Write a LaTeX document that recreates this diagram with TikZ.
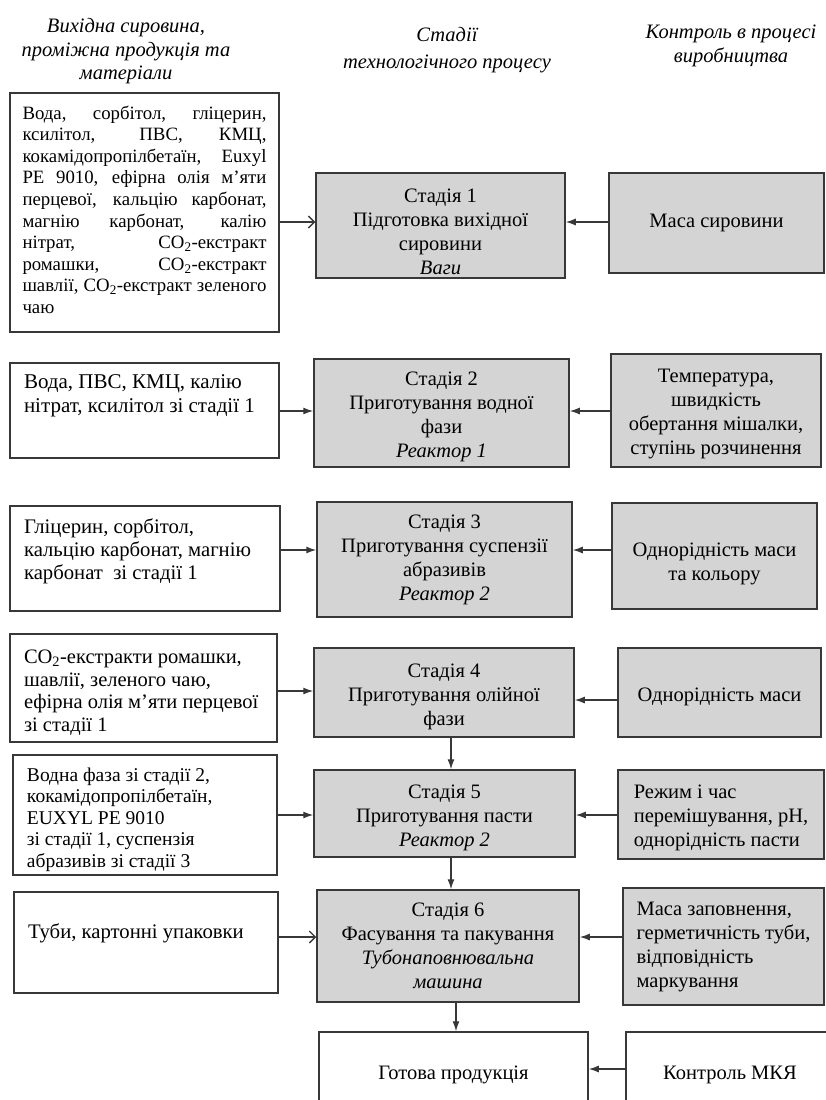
\documentclass[tikz,border=0pt]{standalone}
\usepackage{fontspec}
\setmainfont{Liberation Serif}
\usetikzlibrary{arrows.meta}
\definecolor{boxgray}{HTML}{D4D4D4}
\definecolor{edgegray}{HTML}{383838}

%% text of a material box: height, width, top gap, font size, line skip, text
\newcommand{\srctext}[6]{\parbox[c][#1pt][t]{#2pt}{\fontsize{#4}{#5}\selectfont\vspace*{#3pt}\strut #6}}
%% taller first line, pushes the text of a box down
\newcommand{\lowtext}[1]{\rule{0pt}{#1pt}}

\begin{document}
\begin{tikzpicture}[x=1pt,y=-1pt,
    every node/.style={font=\fontsize{20.5}{24}\selectfont},
    srcbox/.style={draw=edgegray, line width=1.5pt, fill=white, inner xsep=14pt, inner ysep=0pt},
    stagebox/.style={draw=edgegray, line width=1.5pt, fill=boxgray, align=center, inner sep=0pt},
    ctrlbox/.style={stagebox},
    outbox/.style={stagebox, fill=white},
    head/.style={align=center, font=\fontsize{20.5}{23.5}\selectfont\itshape},
    feed/.style={draw=edgegray, line width=1.3pt, -{Straight Barb[length=6pt,width=12pt]}},
    pass/.style={draw=edgegray, line width=1.3pt, -{Latex[length=10pt,width=7pt]}}]

    %% page frame
    \useasboundingbox (0,0) rectangle (826,1100);
    \clip (0,0) rectangle (826,1100);

    %% column headings
    \node[head] (hsrc) at (126,51.5) {Вихідна сировина,\\проміжна продукція та\\матеріали};
    \node[head, font=\fontsize{20.5}{27}\selectfont\itshape] (hstage) at (447,50)
        {Стадії\\технологічного процесу};
    \node[head] (hctrl) at (731,46) {Контроль в процесі\\виробництва};

    %% stage 1
    \node[srcbox, inner xsep=12.5pt] (L1) at (144.5,212.5) {\srctext{239}{244}{11}{18.8}{21.6}{%
        \spaceskip=.25em plus .5em minus .1em
        Вода, сорбітол, гліцерин,\linebreak
        ксилітол, ПВС, КМЦ,\linebreak кокамідопропілбетаїн, Euxyl\linebreak
        PE~9010, ефірна олія м’яти\linebreak перцевої, кальцію карбонат,\linebreak
        магнію карбонат, калію\linebreak нітрат, CO\textsubscript{2}-екстракт\linebreak
        ромашки, CO\textsubscript{2}-екстракт\linebreak
        шавлії, CO\textsubscript{2}-екстракт зеленого\linebreak чаю}};
    \node[stagebox, minimum width=249pt, minimum height=105pt] (M1) at (440.5,225.5)
        {\lowtext{26}Стадія 1\\Підготовка вихідної\\сировини\\\textit{Ваги}};
    \node[ctrlbox, minimum width=215pt, minimum height=100pt] (R1) at (716.5,223) {Маса сировини};

    %% stage 2
    \node[srcbox] (L2) at (144.5,410.5) {\srctext{95}{241}{9}{21}{24}{\raggedright
        Вода, ПВС, КМЦ, калію\\нітрат, ксилітол зі стадії 1}};
    \node[stagebox, minimum width=255pt, minimum height=108pt] (M2) at (441.5,413)
        {\lowtext{22}Стадія 2\\Приготування водної\\фази\\\textit{Реактор 1}};
    \node[ctrlbox, minimum width=210pt, minimum height=113pt] (R2) at (716,410.5)
        {\lowtext{20}Температура,\\швидкість\\обертання мішалки,\\ступінь розчинення};

    %% stage 3
    \node[srcbox] (L3) at (145,558.5) {\srctext{105}{242}{11.5}{20.7}{23}{\raggedright
        Гліцерин, сорбітол,\\кальцію карбонат, магнію\\карбонат~ зі стадії 1}};
    \node[stagebox, minimum width=255pt, minimum height=115pt] (M3) at (444.5,559.5)
        {Стадія 3\\Приготування суспензії\\абразивів\\\textit{Реактор 2}};
    \node[ctrlbox, minimum width=205pt, minimum height=106pt] (R3) at (714.5,556)
        {\lowtext{29}Однорідність маси\\та кольору};

    %% stage 4
    \node[srcbox] (L4) at (143.5,688) {\srctext{108}{239}{13.5}{20.5}{22.7}{\raggedright
        CO\textsubscript{2}-екстракти ромашки,\\шавлії, зеленого чаю,\\
        ефірна олія м’яти перцевої\\зі стадії 1}};
    \node[stagebox, minimum width=260pt, minimum height=89pt] (M4) at (444,692.5)
        {\lowtext{22}Стадія 4\\Приготування олійної\\фази};
    \node[ctrlbox, minimum width=203pt, minimum height=89pt] (R4) at (719.5,692.5)
        {\lowtext{22}Однорідність маси};

    %% stage 5
    \node[srcbox] (L5) at (145,815) {\srctext{120}{236}{11}{19.5}{21.5}{\raggedright
        Водна фаза зі стадії 2,\\кокамідопропілбетаїн,\\EUXYL PE 9010\\
        зі стадії 1, суспензія\\абразивів зі стадії 3}};
    \node[stagebox, minimum width=261pt, minimum height=87pt] (M5) at (444.5,813.5)
        {\lowtext{22}Стадія 5\\Приготування пасти\\\textit{Реактор 2}};
    \node[ctrlbox, align=left, minimum width=206pt, minimum height=89pt] (R5) at (721,814.5)
        {\lowtext{20}Режим і час\\перемішування, pH,\\однорідність пасти};

    %% stage 6
    \node[srcbox] (L6) at (146,942.5) {\srctext{101}{236}{30}{20.7}{24}{\raggedright
        Туби, картонні упаковки}};
    \node[stagebox, minimum width=262pt, minimum height=112pt] (M6) at (448,946)
        {Стадія 6\\Фасування та пакування\\\textit{Тубонаповнювальна}\\\textit{машина}};
    \node[ctrlbox, align=left, minimum width=201pt, minimum height=117pt] (R6) at (723.5,946.5)
        {Маса заповнення,\\герметичність туби,\\відповідність\\маркування};

    %% finished product
    \node[outbox, minimum width=269pt, minimum height=82pt] (M7) at (453.5,1073)
        {\lowtext{18}Готова продукція};
    \node[outbox, minimum width=208pt, minimum height=82pt] (R7) at (730,1073)
        {\lowtext{18}Контроль МКЯ};

    %% levels of the horizontal arrows
    \coordinate (r1) at (0,222);
    \coordinate (r2) at (0,411);
    \coordinate (r3) at (0,550);
    \coordinate (r4) at (0,691);
    \coordinate (r4c) at (0,700);
    \coordinate (r5) at (0,815);
    \coordinate (r6) at (0,937);
    \coordinate (r7) at (0,1069);

    %% materials into stages
    \draw[feed] (L1.east |- r1) -- (M1.west |- r1);
    \draw[pass] (L2.east |- r2) -- (M2.west |- r2);
    \draw[pass] (L3.east |- r3) -- (M3.west |- r3);
    \draw[pass] (L4.east |- r4) -- (M4.west |- r4);
    \draw[pass] (L5.east |- r5) -- (M5.west |- r5);
    \draw[feed] (L6.east |- r6) -- (M6.west |- r6);

    %% control into stages
    \draw[pass] (R1.west |- r1) -- (M1.east |- r1);
    \draw[pass] (R2.west |- r2) -- (M2.east |- r2);
    \draw[pass] (R3.west |- r3) -- (M3.east |- r3);
    \draw[pass] (R4.west |- r4c) -- (M4.east |- r4c);
    \draw[pass] (R5.west |- r5) -- (M5.east |- r5);
    \draw[pass] (R6.west |- r6) -- (M6.east |- r6);
    \draw[pass] (R7.west |- r7) -- (M7.east |- r7);

    %% stage to stage
    \coordinate (c45) at (451,0);
    \coordinate (c67) at (456,0);
    \draw[pass] (M4.south -| c45) -- (M5.north -| c45);
    \draw[pass] (M5.south -| c45) -- (M6.north -| c45);
    \draw[pass] (M6.south -| c67) -- (M7.north -| c67);
\end{tikzpicture}
\end{document}
